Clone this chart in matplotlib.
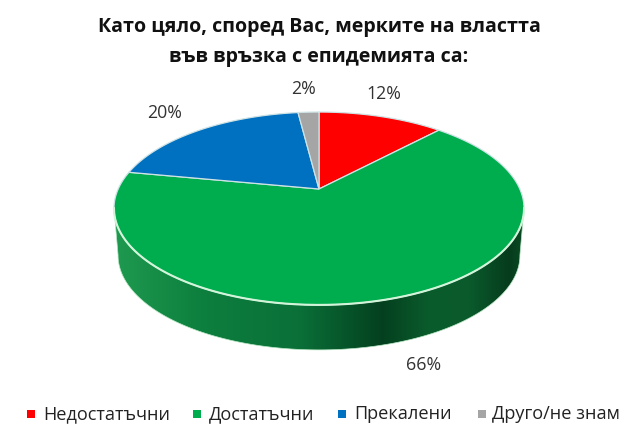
import numpy as np
import matplotlib
matplotlib.use("Agg")
import matplotlib.pyplot as plt
from matplotlib.colors import LinearSegmentedColormap
from matplotlib.patches import Polygon

plt.rcParams['font.family'] = ['Open Sans', 'Noto Sans', 'DejaVu Sans']

# data
categories = ["Недостатъчни", "Достатъчни", "Прекалени", "Друго/не знам"]
shares = [12, 66, 20, 2]
slice_colors = ["#FF0000", "#00AD4E", "#0070C0", "#A5A5A5"]
title_lines = ["Като цяло, според Вас, мерките на властта", "във връзка с епидемията са:"]

# pie geometry, axes are in image pixels
CX, CY = 319, 189
SX, SY = 200.8, 92.5
TILT = 0.202
DEPTH = 47.3
BOTTOM_SCALE = 0.98


def project(theta, scale=1.0, drop=0.0):
    # clockwise from the top, with perspective so the back looks smaller
    u = np.sin(theta)
    v = np.cos(theta)
    w = 1 + TILT * v
    return CX + scale * SX * u / w, CY + drop - scale * SY * v / w


fig = plt.figure(figsize=(6.4, 4.41), dpi=100)
ax = fig.add_axes([0, 0, 1, 1])

# side wall
rim = np.linspace(0, 2 * np.pi, 721)
rx, ry = project(rim)
bx, by = project(rim, BOTTOM_SCALE, DEPTH)
right = np.argmax(rx)
left = np.argmin(rx)
wall_x = np.concatenate([rx[right:left + 1], bx[right:left + 1][::-1]])
wall_y = np.concatenate([ry[right:left + 1], by[right:left + 1][::-1]])
wall = Polygon(np.column_stack([wall_x, wall_y]), closed=True, facecolor="none", edgecolor="#b8e8c4", lw=0.5, zorder=1.5)
ax.add_patch(wall)
wall_cmap = LinearSegmentedColormap.from_list("wall", [
    (0.0, "#1f9a50"), (0.21, "#0d7f3e"), (0.45, "#0a7038"), (0.655, "#04401f"),
    (0.77, "#0a5c2c"), (0.87, "#0a5a2c"), (0.965, "#063c1c"), (1.0, "#0a4a24")])
img = ax.imshow(np.linspace(0, 1, 256).reshape(1, -1), cmap=wall_cmap, aspect="auto",
                extent=(114, 524, 352, 190), interpolation="bilinear", zorder=1)
img.set_clip_path(wall)

# top face, slices come from the shares
edges = np.cumsum([0] + shares) / sum(shares) * 2 * np.pi
for i in range(len(shares)):
    t = np.linspace(edges[i], edges[i + 1], 200)
    x, y = project(t)
    ax.fill(np.r_[CX, x], np.r_[CY, y], facecolor=slice_colors[i], edgecolor="#cfe3e6", lw=0.9, zorder=2)

# light rim on the front edge
ax.plot(rx[right:left + 1], ry[right:left + 1], color="#d2f5da", lw=1.5, zorder=3)

ax.set_xlim(0, 640)
ax.set_ylim(441, 0)
ax.axis("off")

# value labels
label_x = [384, 424, 165, 304]
label_y = [94, 365, 113, 89]
for i in range(len(shares)):
    ax.text(label_x[i], label_y[i], "%d%%" % shares[i], ha="center", va="center", fontsize=12.8, color="#333333")

ax.text(319, 27, title_lines[0], ha="center", va="center", fontsize=14.1, fontweight="bold", color="#111111")
ax.text(319, 57, title_lines[1], ha="center", va="center", fontsize=14.1, fontweight="bold", color="#111111")

# legend
marker_x = [31, 197, 342, 482]
text_x = [43, 209, 354, 492]
for i in range(len(categories)):
    ax.scatter([marker_x[i]], [414], marker="s", s=30, color=slice_colors[i], linewidths=0)
    ax.text(text_x[i], 414, categories[i], ha="left", va="center", fontsize=13.1, color="#222222")

fig.savefig("out.png", dpi=100)
